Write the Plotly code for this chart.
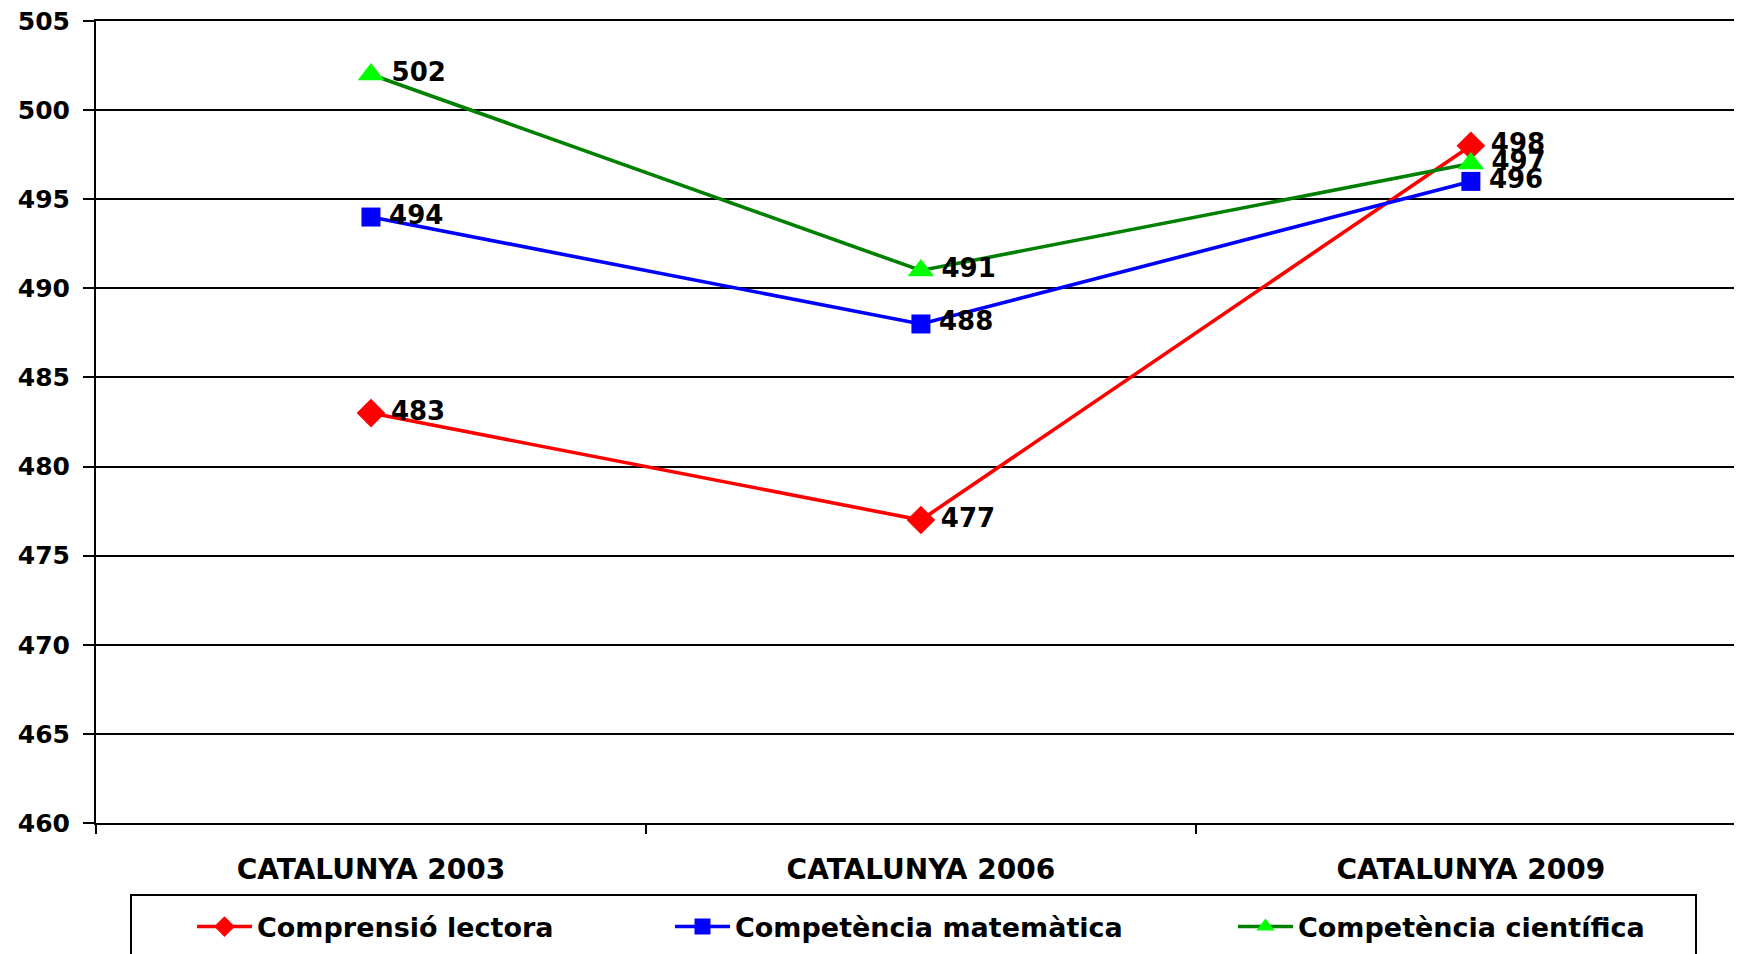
import plotly.graph_objects as go

categories = ["CATALUNYA 2003", "CATALUNYA 2006", "CATALUNYA 2009"]
series_names = ["Comprensió lectora", "Competència matemàtica", "Competència científica"]
lectora = [483, 477, 498]
matematica = [494, 488, 496]
cientifica = [502, 491, 497]
y_ticks = [460, 465, 470, 475, 480, 485, 490, 495, 500, 505]

FONT = "DejaVu Sans"
OFF = 8  # page body margin of the html page
W, H = 1742 - OFF, 954 - OFF
# plot area in screen pixels: x 96..1742, y 21..823
L, R, T, B = 96 - OFF, 0, 21 - OFF, 954 - 823
pw, ph = W - L - R, H - T - B

def px_x(x):  # screen pixel -> paper
    return (x - OFF - L) / pw

def px_y(y):
    return (H - B - (y - OFF)) / ph

styles = [
    dict(values=lectora, line="#FF0000", marker="#FF0000", symbol="diamond", size=22, legend="legend"),
    dict(values=matematica, line="#0000FF", marker="#0000FF", symbol="square", size=19, legend="legend2"),
    dict(values=cientifica, line="#008000", marker="#00FF00", symbol="triangle-up", size=23, legend="legend3"),
]

fig = go.Figure()
for name, st in zip(series_names, styles):
    fig.add_trace(go.Scatter(
        x=categories, y=st["values"], name=name,
        mode="lines+markers+text",
        texttemplate="\u2009%{y}",
        textposition="middle right",
        textfont=dict(family=FONT, size=26, color="black", weight="bold"),
        line=dict(color=st["line"], width=3.6),
        marker=dict(color=st["marker"], symbol=st["symbol"], size=st["size"], line=dict(width=0)),
        legend=st["legend"],
        cliponaxis=False,
    ))

legend_common = dict(
    orientation="h", yanchor="middle", xanchor="left",
    xref="container", yref="container",
    font=dict(family=FONT, size=27, color="black", weight="bold"),
    bgcolor="rgba(0,0,0,0)", borderwidth=0, itemwidth=55,
)
legend_x = [192, 670, 1233]
legend_y = 1 - (927 - OFF) / H

fig.update_layout(
    width=W, height=H,
    margin=dict(l=L, r=R, t=T, b=B, pad=0, autoexpand=False),
    paper_bgcolor="white", plot_bgcolor="white",
    showlegend=True,
    legend=dict(x=(legend_x[0] - OFF) / W, y=legend_y, **legend_common),
    legend2=dict(x=(legend_x[1] - OFF) / W, y=legend_y, **legend_common),
    legend3=dict(x=(legend_x[2] - OFF) / W, y=legend_y, **legend_common),
    xaxis=dict(
        type="category", range=[-0.5, 2.493], automargin=False,
        showline=True, linecolor="black", linewidth=2, mirror=True,
        ticks="outside", tickson="boundaries", ticklen=9, tickcolor="black", tickwidth=1.5,
        showgrid=False, ticklabelstandoff=20,
        tickfont=dict(family=FONT, size=28, color="black", weight="bold"),
    ),
    yaxis=dict(
        range=[460, 505], tickvals=y_ticks, automargin=False,
        ticklabeloverflow="allow",
        showline=True, linecolor="black", linewidth=2,
        ticks="outside", ticklen=11, tickcolor="black", tickwidth=1.5,
        showgrid=True, gridcolor="black", gridwidth=1.5, zeroline=False,
        ticklabelstandoff=8,
        tickfont=dict(family=FONT, size=25, color="black", weight="bold"),
    ),
    shapes=[dict(
        type="rect", xref="paper", yref="paper",
        x0=px_x(131), x1=px_x(1696), y0=px_y(895), y1=px_y(990),
        line=dict(color="black", width=2), fillcolor="rgba(0,0,0,0)", layer="above",
    )],
)

fig.write_html("out.html")
